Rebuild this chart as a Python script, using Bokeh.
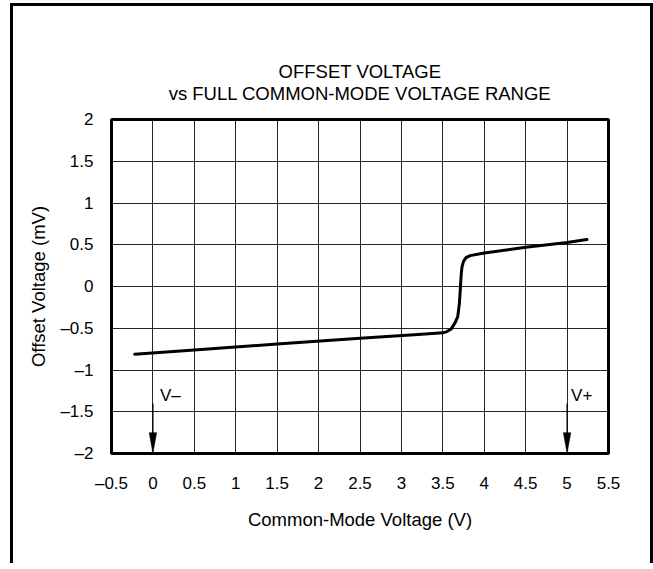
from bokeh.plotting import figure
from bokeh.models import FixedTicker, Range1d, Title
from bokeh.core.properties import value
from bokeh.embed import file_html
from bokeh.resources import INLINE

# ---- data ----
cm_voltage = [-0.22, 0.5, 1.5, 2.5, 3.2, 3.5, 3.55, 3.6, 3.65, 3.68, 3.7, 3.71, 3.72, 3.73, 3.75, 3.78, 3.83, 4.0, 4.5, 5.0, 5.24]
offset_mv = [-0.81, -0.76, -0.69, -0.62, -0.575, -0.555, -0.54, -0.51, -0.43, -0.36, -0.2, -0.05, 0.12, 0.23, 0.3, 0.345, 0.37, 0.40, 0.47, 0.527, 0.563]

x_ticks = [-0.5, 0, 0.5, 1, 1.5, 2, 2.5, 3, 3.5, 4, 4.5, 5, 5.5]
x_tick_labels = ["\u20130.5", "0", "0.5", "1", "1.5", "2", "2.5", "3", "3.5", "4", "4.5", "5", "5.5"]
y_ticks = [-2, -1.5, -1, -0.5, 0, 0.5, 1, 1.5, 2]
y_tick_labels = ["\u20132", "\u20131.5", "\u20131", "\u20130.5", "0", "0.5", "1", "1.5", "2"]

rail_x = [0, 5]
rail_labels = ["V\u2013", "V+"]
rail_arrow_top = -1.4

title_lines = ["OFFSET VOLTAGE", "vs FULL COMMON-MODE VOLTAGE RANGE"]
x_label = "Common-Mode Voltage (V)"
y_label = "Offset Voltage (mV)"

FONT = "Liberation Sans"

p = figure(width=643, height=560, output_backend="svg", toolbar_location=None,
           x_range=Range1d(-0.5, 5.5), y_range=Range1d(-2, 2),
           min_border_left=98, min_border_right=48, min_border_top=113, min_border_bottom=113)
p.styles = {"margin-left": "10px", "margin-top": "3px",
            "border-left": "3px solid black", "border-top": "3px solid black",
            "border-right": "3px solid black"}

p.outline_line_color = "black"
p.outline_line_width = 3
p.outline_line_alpha = 1

for ax, ticks, labels in ((p.xaxis, x_ticks, x_tick_labels), (p.yaxis, y_ticks, y_tick_labels)):
    ax.ticker = FixedTicker(ticks=ticks)
    ax.major_label_overrides = dict(zip(ticks, labels))
    ax.axis_line_color = None
    ax.major_tick_line_color = None
    ax.minor_tick_line_color = None
    ax.major_label_text_font = FONT
    ax.major_label_text_font_size = "17px"
    ax.major_label_text_color = "black"
    ax.axis_label_text_font = FONT
    ax.axis_label_text_font_size = "18.5px"
    ax.axis_label_text_font_style = "normal"
    ax.axis_label_text_color = "black"

p.xaxis.axis_label = x_label
p.yaxis.axis_label = y_label
p.xaxis.major_label_standoff = 14
p.xaxis.axis_label_standoff = 13
p.yaxis.major_label_standoff = 12
p.yaxis.axis_label_standoff = 8

p.xgrid.grid_line_color = "black"
p.ygrid.grid_line_color = "black"
p.xgrid.grid_line_width = 1
p.ygrid.grid_line_width = 1
p.xgrid.grid_line_alpha = 0.85
p.ygrid.grid_line_alpha = 0.85

# two-line title, centred over the plot frame
p.add_layout(Title(text="\n".join(title_lines), align="center", text_align="center",
                   text_font=FONT, text_font_size="18.5px", text_font_style="normal",
                   text_color="black", text_line_height=1.05, standoff=30), "above")

# curve
p.line(cm_voltage, offset_mv, line_color="black", line_width=3, line_join="round", line_cap="round")

# rail arrows
head_len = 0.25
head_half = 0.045
p.segment(x0=rail_x, y0=[rail_arrow_top] * len(rail_x), x1=rail_x,
          y1=[-2 + head_len] * len(rail_x), line_color="black", line_width=1.2)
p.patches(xs=[[x - head_half, x + head_half, x] for x in rail_x],
          ys=[[-2 + head_len, -2 + head_len, -2] for _ in rail_x],
          fill_color="black", line_color="black", line_width=0.5)
p.text(x=rail_x, y=[-1.3] * len(rail_x), text=rail_labels, x_offset=[7, 4],
       text_baseline="middle", text_align="left", text_font=value(FONT),
       text_font_size="17px", text_color="black")

open("out.html", "w").write(file_html(p, INLINE))
